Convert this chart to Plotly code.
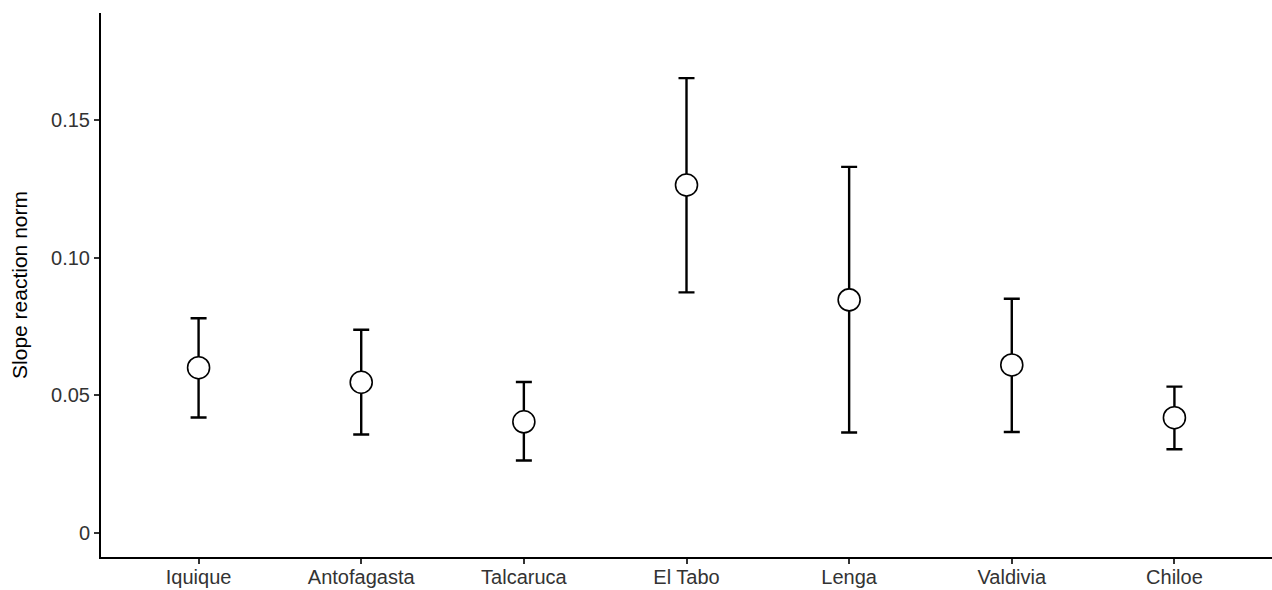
import plotly.graph_objects as go

sites = ["Iquique", "Antofagasta", "Talcaruca", "El Tabo", "Lenga", "Valdivia", "Chiloe"]
slope = [0.0600, 0.0547, 0.0403, 0.1265, 0.0847, 0.0610, 0.0418]
upper = [0.0780, 0.0738, 0.0548, 0.1654, 0.1331, 0.0851, 0.0531]
lower = [0.0419, 0.0357, 0.0262, 0.0874, 0.0364, 0.0366, 0.0303]

yticks = [0, 0.05, 0.10, 0.15]
yticklabels = ["0", "0.05", "0.10", "0.15"]

err_plus = [u - m for u, m in zip(upper, slope)]
err_minus = [m - l for m, l in zip(slope, lower)]

fig = go.Figure()
fig.add_trace(go.Scatter(
    x=list(range(len(sites))), y=slope, mode="markers",
    error_y=dict(type="data", symmetric=False, array=err_plus, arrayminus=err_minus,
                 color="black", thickness=2.4, width=8),
    marker=dict(symbol="circle", size=22, color="white",
                line=dict(color="black", width=1.6)),
    showlegend=False,
))

fig.update_layout(
    width=1272, height=590,
    margin=dict(l=101, r=0, t=13, b=33, autoexpand=False),
    paper_bgcolor="white", plot_bgcolor="white",
    font=dict(family="Liberation Sans, Arial, sans-serif", color="#333333", size=20),
    xaxis=dict(
        range=[-0.6, 6.6], tickmode="array", tickvals=list(range(len(sites))),
        ticktext=sites, showgrid=False, zeroline=False, automargin=False,
        showline=True, linecolor="black", linewidth=2,
        ticks="outside", ticklen=5, tickwidth=2, tickcolor="#333333",
        tickfont=dict(size=20, color="#333333"), ticklabelstandoff=-4,
    ),
    yaxis=dict(
        range=[-0.0089, 0.1891], tickmode="array", tickvals=yticks,
        ticktext=yticklabels, showgrid=False, zeroline=False, automargin=False,
        showline=True, linecolor="black", linewidth=2,
        ticks="outside", ticklen=5, tickwidth=2, tickcolor="#333333",
        tickfont=dict(size=20, color="#333333"),
        title=dict(text="Slope reaction norm", font=dict(size=21, color="black"), standoff=18),
    ),
)

fig.write_html("out.html", config={"displayModeBar": False},
               post_script="document.body.style.margin='0';")
